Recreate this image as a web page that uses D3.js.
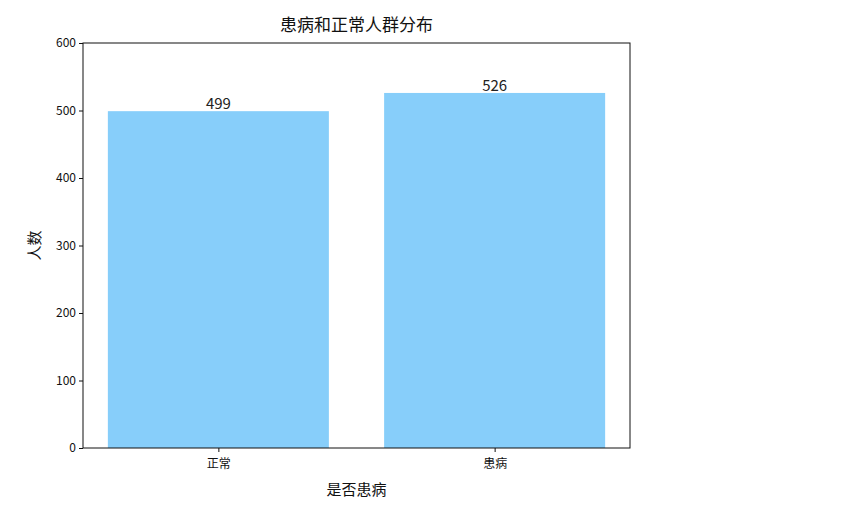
<!DOCTYPE html>
<html>
<head>
<meta charset="utf-8">
<script src="https://cdn.jsdelivr.net/npm/d3@7"></script>
<style>
  body { margin: 0; background: #fff; }
  text { font-family: "Noto Sans CJK SC", "DejaVu Sans", sans-serif; }
</style>
</head>
<body>
<div id="chart"></div>
<script>
// 数据
var categories = ["正常", "患病"];
var counts = [499, 526];
var yTicks = [0, 100, 200, 300, 400, 500, 600];

var W = 865, H = 518;
var margin = {top: 43, right: 235, bottom: 70, left: 83};
var width = W - margin.left - margin.right,
    height = H - margin.top - margin.bottom;

var svg = d3.select("#chart").append("svg")
  .attr("width", W).attr("height", H);

var g = svg.append("g")
  .attr("transform", "translate(" + margin.left + "," + margin.top + ")");

// x: matplotlib style, bar centres at 0,1, width 0.8, margins 0.05
var x = d3.scaleLinear().domain([-0.49, 1.49]).range([0, width]);
var y = d3.scaleLinear().domain([0, 600]).range([height, 0]);

g.selectAll("rect.bar")
  .data(counts)
  .enter().append("rect")
  .attr("class", "bar")
  .attr("x", function(d, i){ return x(i - 0.4); })
  .attr("width", function(d, i){ return x(i + 0.4) - x(i - 0.4); })
  .attr("y", function(d){ return y(d); })
  .attr("height", function(d){ return height - y(d); })
  .attr("fill", "#87CEFA");

// value labels
g.selectAll("text.val")
  .data(counts)
  .enter().append("text")
  .attr("class", "val")
  .attr("x", function(d, i){ return x(i); })
  .attr("y", function(d){ return y(d) - 2; })
  .attr("text-anchor", "middle")
  .style("font-size", "15px")
  .attr("fill", "#222")
  .text(function(d){ return d; });

// axes
var xAxis = d3.axisBottom(x)
  .tickValues(categories.map(function(c, i){ return i; }))
  .tickFormat(function(i){ return categories[i]; })
  .tickSizeOuter(0).tickSize(4);
var yAxis = d3.axisLeft(y).tickValues(yTicks).tickSizeOuter(0).tickSize(4);

var gx = g.append("g").attr("transform", "translate(0," + height + ")").call(xAxis);
var gy = g.append("g").call(yAxis);
[gx, gy].forEach(function(a){
  a.selectAll("text").style("font-size", "12px").attr("fill", "#111");
  a.selectAll("line").attr("stroke", "#111");
  a.select(".domain").remove();
});
gx.selectAll("text").attr("dy", "1.1em");

// frame
g.append("rect")
  .attr("x", 0).attr("y", 0)
  .attr("width", width).attr("height", height)
  .attr("fill", "none").attr("stroke", "#111").attr("stroke-width", 1);

// title and labels
svg.append("text")
  .attr("x", margin.left + width / 2).attr("y", margin.top - 12)
  .attr("text-anchor", "middle")
  .style("font-size", "17px").attr("fill", "#111")
  .text("患病和正常人群分布");

svg.append("text")
  .attr("x", margin.left + width / 2).attr("y", H - 23)
  .attr("text-anchor", "middle")
  .style("font-size", "15px").attr("fill", "#111")
  .text("是否患病");

svg.append("text")
  .attr("transform", "translate(" + 40 + "," + (margin.top + height / 2) + ") rotate(-90)")
  .attr("text-anchor", "middle")
  .style("font-size", "15px").attr("fill", "#111")
  .text("人数");
</script>
</body>
</html>
